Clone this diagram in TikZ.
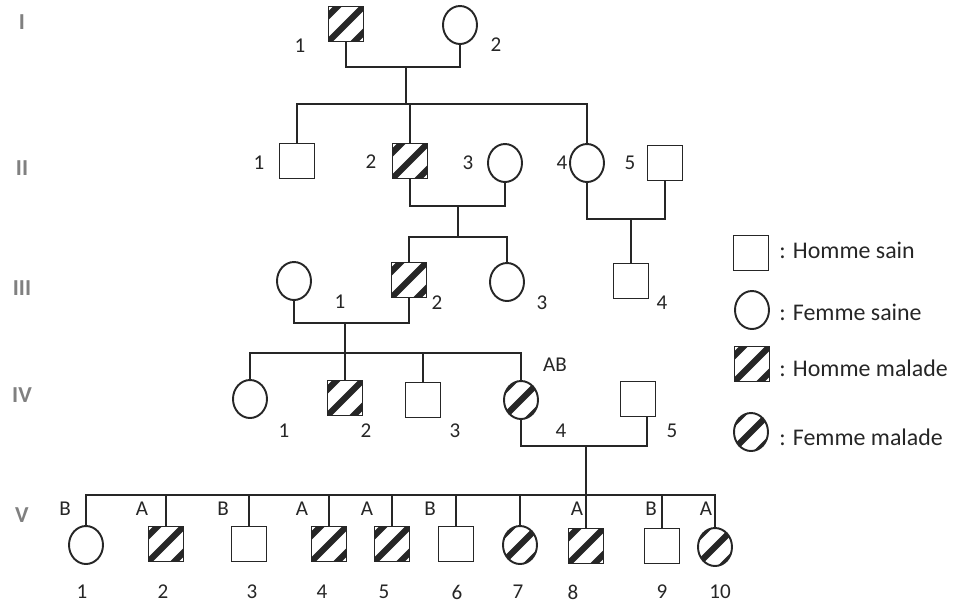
\documentclass[tikz,border=0pt]{standalone}
\usepackage{fontspec}
\setmainfont{Carlito}
\usetikzlibrary{calc,shapes.geometric}

\begin{document}
\begin{tikzpicture}[
  x=0.02cm, y=-0.02cm,
  font=\fontsize{12}{14}\selectfont,
  male/.style={draw=black!85, line width=1.1pt, rectangle, minimum size=0.70cm, inner sep=0pt},
  female/.style={draw=black!85, line width=1.1pt, ellipse, minimum width=0.68cm,
    minimum height=0.76cm, inner sep=0pt},
  sick/.style={path picture={
    \foreach \o in {-13,0,13}
      \draw[line width=3.6pt, black!85]
        ($(path picture bounding box.center)+(\o,\o)+(-30,30)$) -- ++(60,-60);}},
  link/.style={line width=1.1pt, black!85},
  num/.style={inner sep=1pt, text=black!85},
  gen/.style={text=black!50, font=\fontsize{13}{15}\selectfont\bfseries},
  key/.style={anchor=west, inner sep=0pt, text=black!85, font=\fontsize{13.6}{16}\selectfont}
]
\useasboundingbox (0,0) rectangle (958,603);

% generation marks
\node[gen] (gI) at (22,22) {I};
\node[gen] (gII) at (22,168) {II};
\node[gen] (gIII) at (22,288) {III};
\node[gen] (gIV) at (22,395) {IV};
\node[gen] (gV) at (22,515) {V};

% generation I
\node[male, sick] (I1) at (346,24) {};
\node[female] (I2) at (460,25) {};
\node[num] (nI1) at (300,46) {1};
\node[num] (nI2) at (496,45) {2};

% generation II
\node[male] (II1) at (297,161) {};
\node[male, sick] (II2) at (410,161) {};
\node[female] (II3) at (505,163) {};
\node[female] (II4) at (587,163) {};
\node[male] (II5) at (665,163) {};
\node[num] (nII1) at (259,163) {1};
\node[num] (nII2) at (371,162) {2};
\node[num] (nII3) at (468,163) {3};
\node[num] (nII4) at (562,163) {4};
\node[num] (nII5) at (630,163) {5};

% generation III
\node[female] (III1) at (294,281) {};
\node[male, sick] (III2) at (409,280) {};
\node[female] (III3) at (507,282) {};
\node[male] (III4) at (631,281) {};
\node[num] (nIII1) at (340,302) {1};
\node[num] (nIII2) at (437,303) {2};
\node[num] (nIII3) at (542,303) {3};
\node[num] (nIII4) at (662,303) {4};

% generation IV
\node[female] (IV1) at (250,399) {};
\node[male, sick] (IV2) at (345,398) {};
\node[male] (IV3) at (423,400) {};
\node[female, sick] (IV4) at (521,400) {};
\node[male] (IV5) at (638,399) {};
\node[num] (nIV1) at (284,431) {1};
\node[num] (nIV2) at (366,431) {2};
\node[num] (nIV3) at (455,431) {3};
\node[num] (nIV4) at (561,431) {4};
\node[num] (nIV5) at (672,431) {5};
\node[num] (gpIV4) at (555,365) {AB};

% generation V
\node[female] (V1) at (86,545) {};
\node[male, sick] (V2) at (166,544) {};
\node[male] (V3) at (249,544) {};
\node[male, sick] (V4) at (329,544) {};
\node[male, sick] (V5) at (392,544) {};
\node[male] (V6) at (456,544) {};
\node[female, sick] (V7) at (520,545) {};
\node[male, sick] (V8) at (586,546) {};
\node[male] (V9) at (662,546) {};
\node[female, sick] (V10) at (715,547) {};
\foreach \n/\x in {1/82,2/163,3/252,4/322,5/384,6/457,7/518,8/573,9/662,10/720}
  \node[num] (nV\n) at (\x,592) {\n};
\foreach \n/\x/\g in {1/65/B,2/142/A,3/223/B,4/302/A,5/367/A,6/430/B,8/577/A,9/651/B,10/706/A}
  \node[num] (gpV\n) at (\x,509) {\g};

% I1 x I2
\coordinate (mI) at (406,67);
\coordinate (sI) at (406,104);
\draw[link] (I1.south) |- (mI) -| (I2.south);
\draw[link] (mI) -- (sI);
\draw[link] (II1.north) |- (sI) -| (II4.north);
\draw[link] (II2.north) -- (II2.north |- sI);

% II2 x II3
\coordinate (mII) at (458,206);
\coordinate (sII) at (458,237);
\draw[link] (II2.south) |- (mII) -| (II3.south);
\draw[link] (mII) -- (sII);
\draw[link] (III2.north) |- (sII) -| (III3.north);

% II4 x II5
\coordinate (mIIb) at (631,219);
\draw[link] (II4.south) |- (mIIb) -| (II5.south);
\draw[link] (mIIb) -- (III4.north);

% III1 x III2
\coordinate (mIII) at (345,323);
\coordinate (sIII) at (345,353);
\draw[link] (III1.south) |- (mIII) -| (III2.south);
\draw[link] (mIII) -- (IV2.north);
\draw[link] (IV1.north) |- (sIII) -| (IV4.north);
\draw[link] (IV3.north) -- (IV3.north |- sIII);

% IV4 x IV5
\coordinate (mIV) at (586,446);
\coordinate (sIV) at (586,495);
\draw[link] (IV4.south) |- (mIV) -| ($(IV5.south)+(9,0)$);
\draw[link] (mIV) -- (V8.north);
\draw[link] (V1.north) |- (sIV) -| (V10.north);
\foreach \n in {2,3,4,5,6,7,9}
  \draw[link] (V\n.north) -- (V\n.north |- sIV);

% legend
\node[male] (kMS) at (751,253) {};
\node[female] (kFS) at (752,310) {};
\node[male, sick] (kMM) at (752,364) {};
\node[female, sick] (kFM) at (751,432) {};
\node[key] (tMS) at (779,250) {: Homme sain};
\node[key] (tFS) at (779,312) {: Femme saine};
\node[key] (tMM) at (779,368) {: Homme malade};
\node[key] (tFM) at (779,437) {: Femme malade};
\end{tikzpicture}
\end{document}
